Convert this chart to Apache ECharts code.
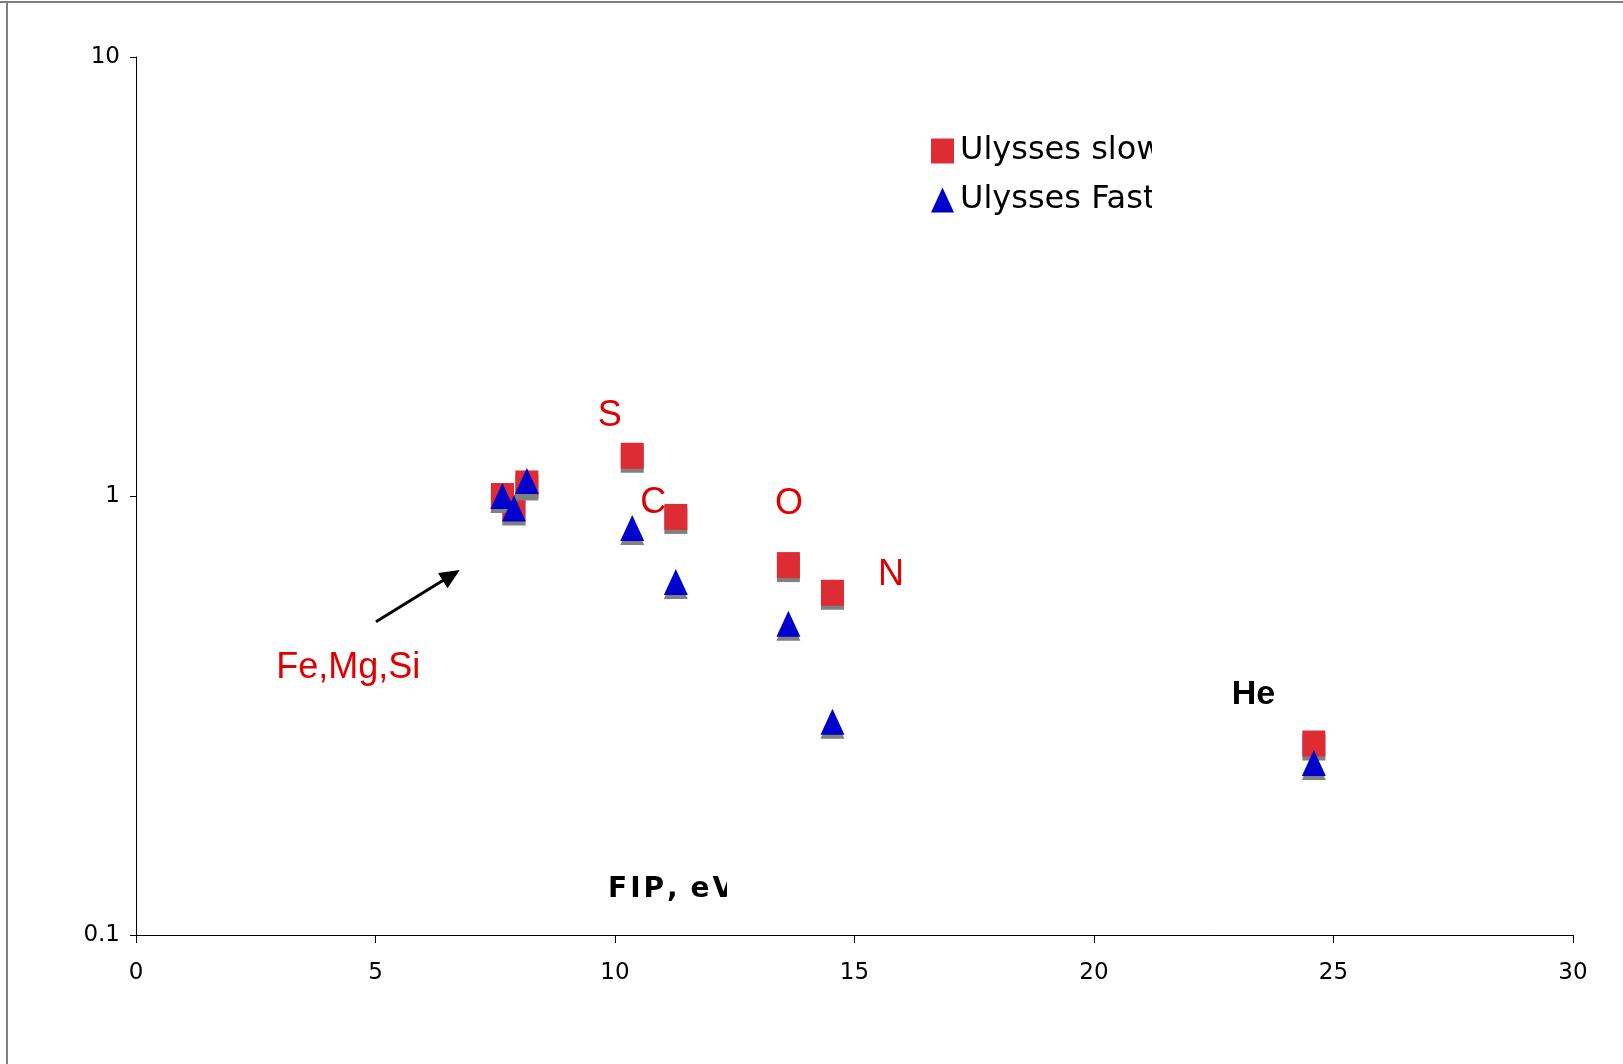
<!DOCTYPE html>
<html>
<head>
<meta charset="utf-8">
<title>FIP bias: Ulysses slow and fast wind</title>
<script src="https://cdn.jsdelivr.net/npm/echarts@6/dist/echarts.min.js"></script>
<style>
  html, body { margin: 0; padding: 0; background: #ffffff; }
  #chart { width: 1623px; height: 1064px; }
</style>
</head>
<body>
<div id="chart"></div>
<script>
// Elements: Mg, Fe, Si, S, C, O, N, He
const fipEv      = [7.65, 7.89, 8.16, 10.36, 11.27, 13.62, 14.54, 24.59];
const ulyssesSlow = [1.00, 0.94, 1.068, 1.235, 0.896, 0.696, 0.602, 0.273];
const ulyssesFast = [1.00, 0.937, 1.082, 0.845, 0.637, 0.512, 0.306, 0.2465];

const xTicks = [0, 5, 10, 15, 20, 25, 30];
const yTicks = [0.1, 1, 10];

const seriesNames = ['Ulysses slow', 'Ulysses Fast'];
const xAxisTitle = 'FIP, eV';

// Element annotations placed in data space [FIP, ratio]
const elementNotes = [
  { text: 'S',        at: [9.89, 1.524] },
  { text: 'C',        at: [10.80, 0.966] },
  { text: 'O',        at: [13.63, 0.961] },
  { text: 'N',        at: [15.76, 0.662] },
  { text: 'Fe,Mg,Si', at: [4.43, 0.405] }
];
const heNote = { text: 'He', at: [23.33, 0.352] };
const arrowFrom = [5.01, 0.517];
const arrowTo = [6.76, 0.678];

const RED = '#DD2C33';
const BLUE = '#0000CC';
const LABEL_RED = '#E00000';

const chart = echarts.init(document.getElementById('chart'), null, { renderer: 'canvas' });

const markerShadow = {
  opacity: 1,
  shadowColor: '#808080',
  shadowBlur: 0,
  shadowOffsetX: 0,
  shadowOffsetY: 4
};

chart.setOption({
  animation: false,
  backgroundColor: '#ffffff',
  grid: { left: 136, right: 50, top: 57, bottom: 129 },
  xAxis: {
    type: 'value',
    min: xTicks[0],
    max: xTicks[xTicks.length - 1],
    interval: xTicks[1] - xTicks[0],
    axisLine: { show: true, onZero: false, lineStyle: { color: '#000000', width: 1 } },
    axisTick: { show: true, inside: false, length: 8, lineStyle: { color: '#000000' } },
    axisLabel: {
      margin: 27,
      color: '#000000',
      fontFamily: 'DejaVu Sans',
      fontSize: 23
    },
    splitLine: { show: false }
  },
  yAxis: {
    type: 'log',
    logBase: 10,
    min: yTicks[0],
    max: yTicks[yTicks.length - 1],
    axisLine: { show: true, onZero: false, lineStyle: { color: '#000000', width: 1 } },
    axisTick: { show: true, inside: false, length: 6, lineStyle: { color: '#000000' } },
    minorTick: { show: false },
    axisLabel: {
      margin: 16,
      color: '#000000',
      fontFamily: 'DejaVu Sans',
      fontSize: 23,
      formatter: v => String(v)
    },
    splitLine: { show: false }
  },
  legend: {
    data: [
      { name: seriesNames[0], icon: 'rect' },
      { name: seriesNames[1], icon: 'triangle' }
    ],
    orient: 'vertical',
    left: 926,
    top: 130,
    itemWidth: 23,
    itemHeight: 25,
    itemGap: 17,
    selectedMode: false,
    itemStyle: { opacity: 1, shadowColor: 'rgba(0,0,0,0)', shadowBlur: 0, shadowOffsetY: 0 },
    textStyle: {
      color: '#000000',
      fontFamily: 'DejaVu Sans',
      fontSize: 32,
      lineHeight: 30,
      padding: [0, 0, 0, 1]
    }
  },
  series: [
    {
      name: seriesNames[0],
      type: 'scatter',
      symbol: 'rect',
      symbolSize: [23, 26],
      itemStyle: Object.assign({ color: RED }, markerShadow),
      emphasis: { disabled: true },
      data: fipEv.map((x, i) => [x, ulyssesSlow[i]]),
      z: 2
    },
    {
      name: seriesNames[1],
      type: 'scatter',
      symbol: 'triangle',
      symbolSize: [24, 26],
      itemStyle: Object.assign({ color: BLUE }, markerShadow),
      emphasis: { disabled: true },
      data: fipEv.map((x, i) => [x, ulyssesFast[i]]),
      z: 3
    }
  ]
});

function px(pt) {
  return chart.convertToPixel({ gridIndex: 0 }, pt);
}

// spaced-out bold title, laid out one glyph at a time
function spacedText(str, x0, y, font, spacing, z) {
  const ctx = document.createElement('canvas').getContext('2d');
  ctx.font = font;
  const out = [];
  let x = x0;
  for (const ch of str) {
    out.push({ type: 'text', silent: true, z: z, x: x, y: y,
      style: { text: ch, fill: '#000000', font: font, align: 'left', verticalAlign: 'middle' } });
    x += ctx.measureText(ch).width + (ch === ' ' ? 0 : spacing);
  }
  return out;
}

function buildGraphics() {
  const W = chart.getWidth();
  const H = chart.getHeight();
  const els = [];

  // outer frame edges
  els.push({ type: 'line', silent: true, z: 20,
    shape: { x1: 0, y1: 2, x2: W, y2: 2 },
    style: { stroke: '#808080', lineWidth: 2 } });
  els.push({ type: 'line', silent: true, z: 20,
    shape: { x1: 7, y1: 2, x2: 7, y2: H },
    style: { stroke: '#808080', lineWidth: 2 } });

  // element names
  elementNotes.forEach(n => {
    const p = px(n.at);
    els.push({ type: 'text', silent: true, z: 10, x: p[0], y: p[1],
      style: { text: n.text, fill: LABEL_RED, font: '36px "Liberation Sans", Arial, sans-serif',
               align: 'center', verticalAlign: 'middle' } });
  });
  const hp = px(heNote.at);
  els.push({ type: 'text', silent: true, z: 10, x: hp[0], y: hp[1],
    style: { text: heNote.text, fill: '#000000', font: 'bold 34px "Liberation Sans", Arial, sans-serif',
             align: 'center', verticalAlign: 'middle' } });

  // arrow pointing at the low-FIP group
  const a = px(arrowFrom), b = px(arrowTo);
  const dx = b[0] - a[0], dy = b[1] - a[1];
  const len = Math.hypot(dx, dy);
  const ux = dx / len, uy = dy / len;
  const headLen = 20, headHalf = 9;
  const bx = b[0] - ux * headLen, by = b[1] - uy * headLen;
  els.push({ type: 'line', silent: true, z: 10,
    shape: { x1: a[0], y1: a[1], x2: bx + ux * 2, y2: by + uy * 2 },
    style: { stroke: '#000000', lineWidth: 3 } });
  els.push({ type: 'polygon', silent: true, z: 10,
    shape: { points: [
      [b[0], b[1]],
      [bx - uy * headHalf, by + ux * headHalf],
      [bx + uy * headHalf, by - ux * headHalf]
    ] },
    style: { fill: '#000000' } });

  // axis title sitting inside the plot area, its tail cut off
  const gridLeft = px([0, 0.1])[0];
  spacedText(xAxisTitle, gridLeft + 472, 890, 'bold 28px "DejaVu Sans", Verdana, sans-serif', 3, 10)
    .forEach(e => els.push(e));
  els.push({ type: 'rect', silent: true, z: 11,
    shape: { x: gridLeft + 591, y: 866, width: 40, height: 48 },
    style: { fill: '#ffffff' } });

  // legend box cut at its right edge
  els.push({ type: 'rect', silent: true, z: 11,
    shape: { x: 1152, y: 125, width: 60, height: 90 },
    style: { fill: '#ffffff' } });

  chart.setOption({ graphic: { elements: els } });
}

buildGraphics();
</script>
</body>
</html>
